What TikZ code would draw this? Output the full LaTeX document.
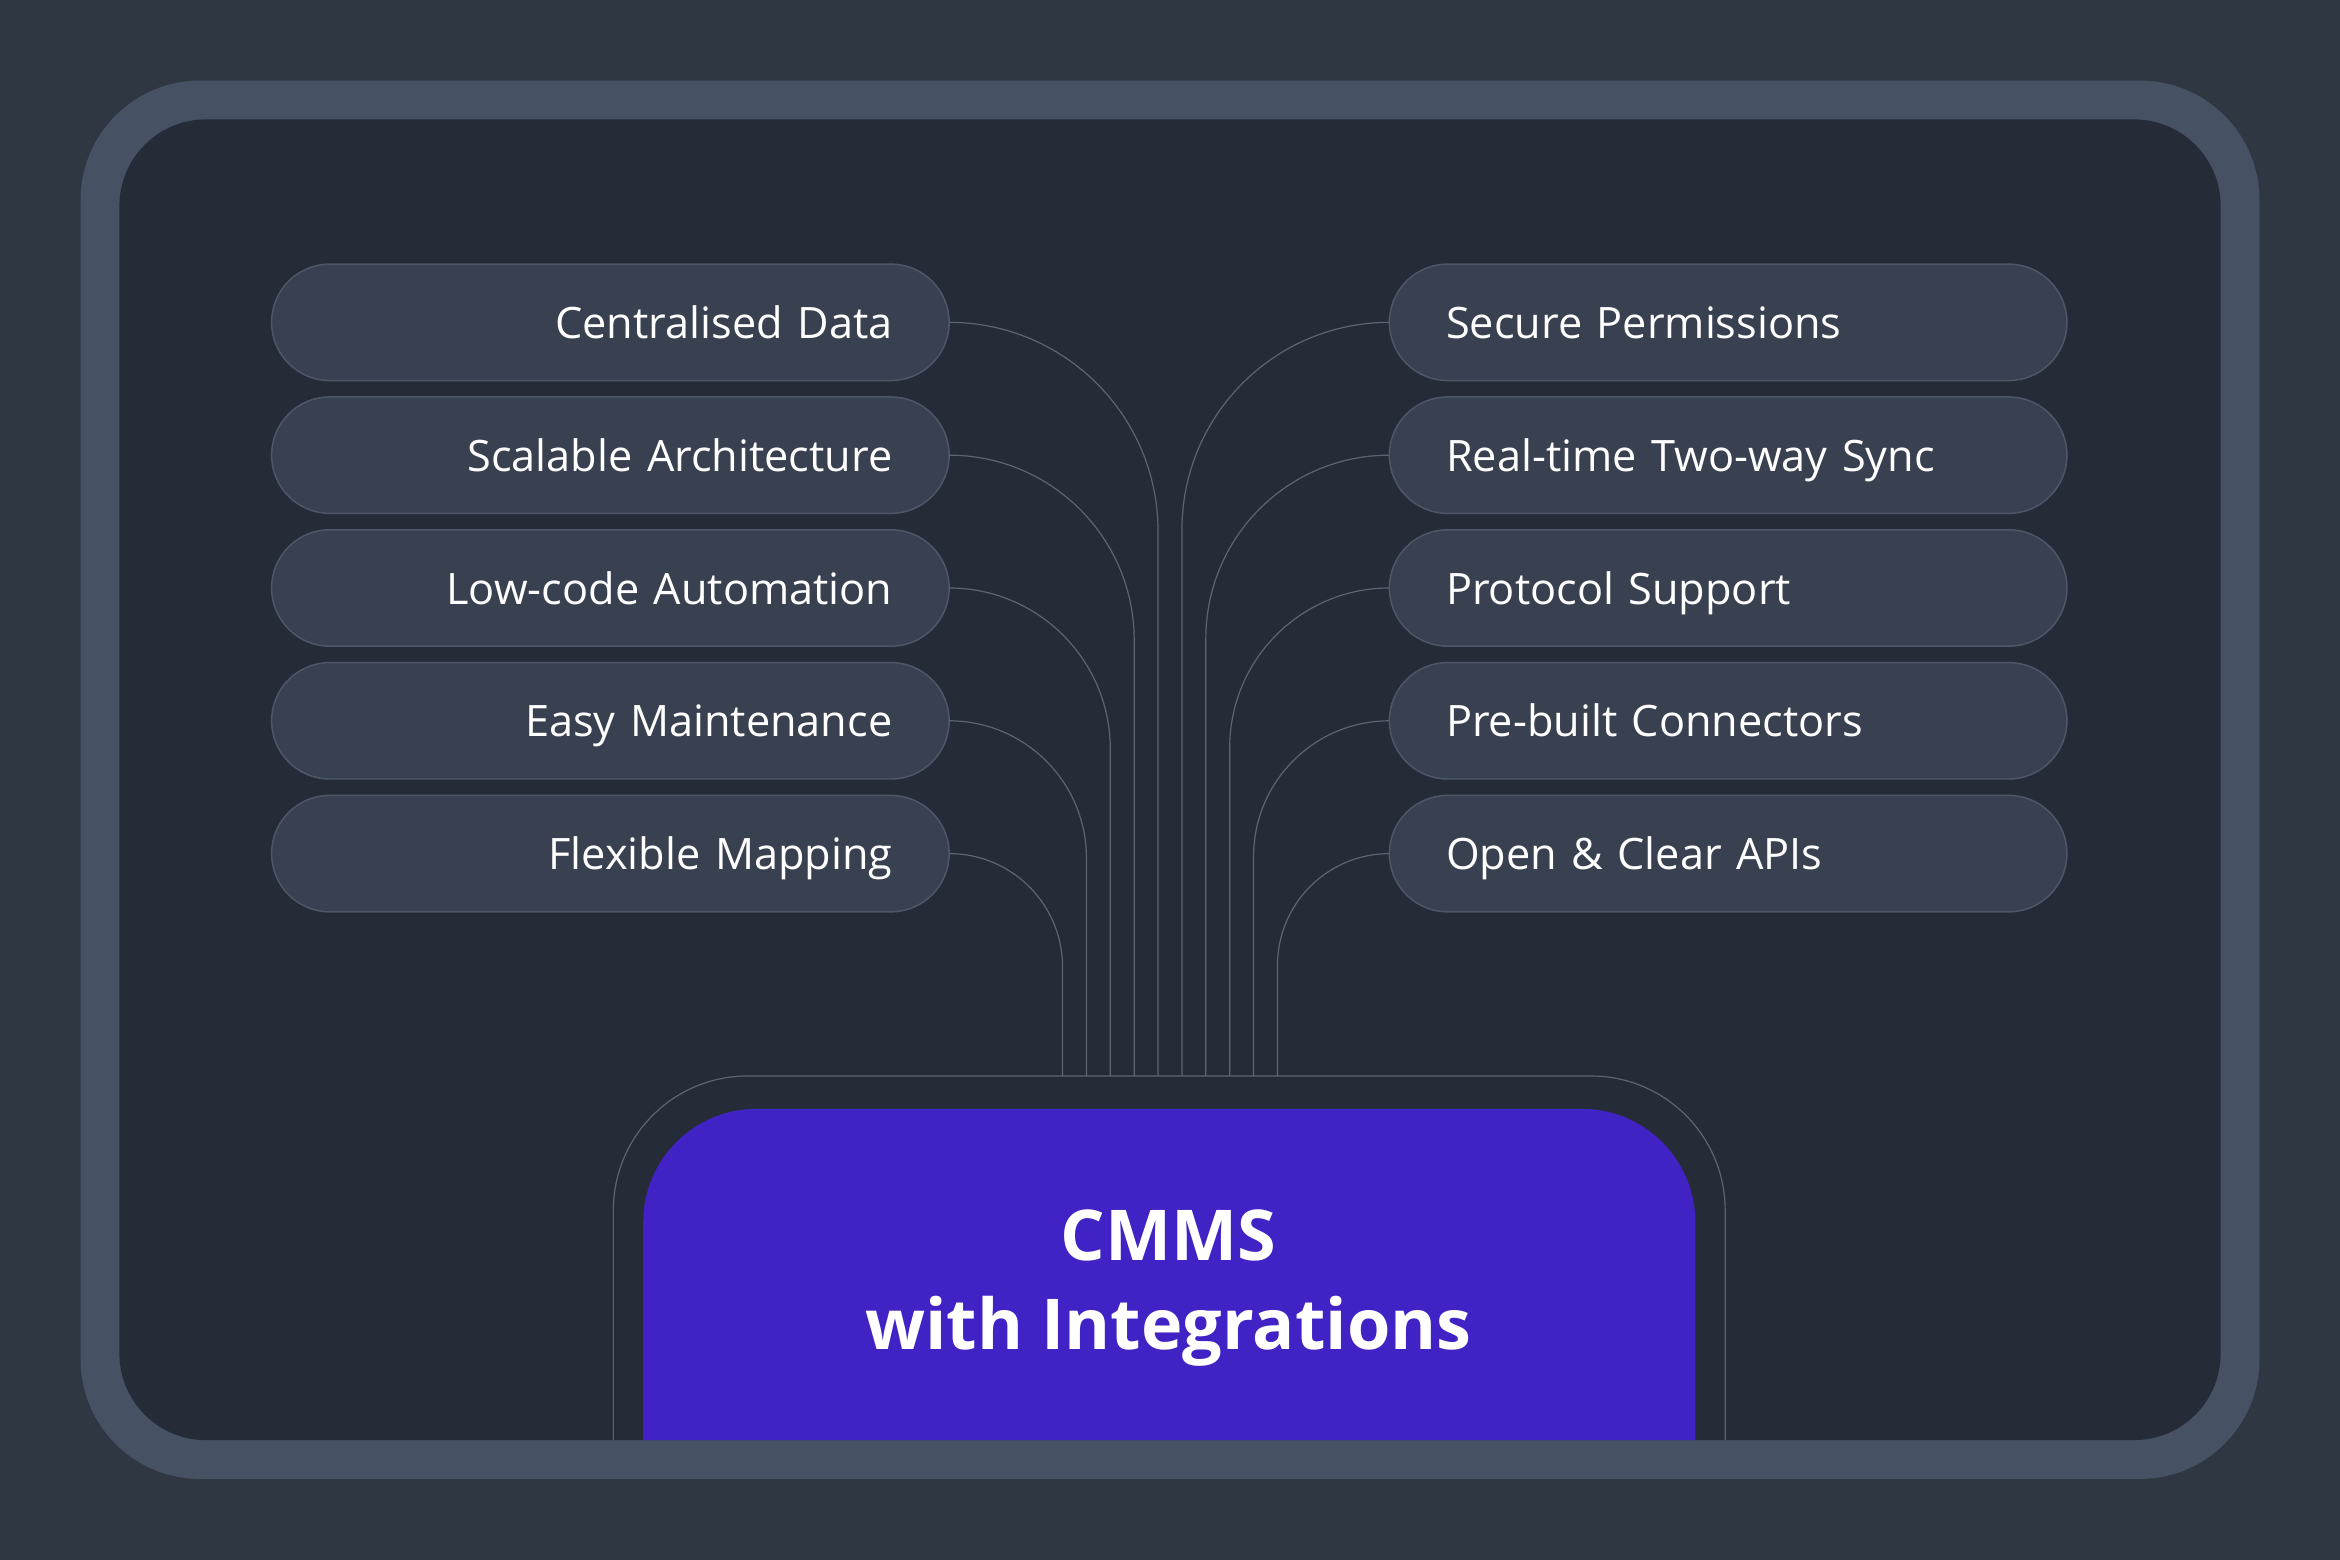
\documentclass[tikz,border=0pt]{standalone}
\usepackage{fontspec}
\setmainfont{Open Sans}
\usetikzlibrary{positioning}
\definecolor{bgdark}{HTML}{2F3743}
\definecolor{frameblue}{HTML}{465263}
\definecolor{paneldark}{HTML}{262C37}
\definecolor{pillfill}{HTML}{394150}
\definecolor{pillline}{HTML}{4E5768}
\definecolor{wiregray}{HTML}{5C6574}
\definecolor{cmmspurple}{HTML}{4122C4}

\begin{document}
\begin{tikzpicture}[x=1pt, y=1pt,
                pillnode/.style={shape=rectangle, rounded corners=39pt, fill=pillfill, draw=pillline, line width=1pt, minimum width=454pt, minimum height=78pt, inner xsep=38pt, text width=378pt, text=white, font=\fontsize{29}{34}\selectfont},
                wire/.style={draw=wiregray, line width=0.8pt}
                ]
                %% Frame
                \fill[bgdark] (0,0) rectangle (1568,1045);
                \fill[frameblue, rounded corners=80pt] (54,54) rectangle (1514,991);
                \fill[paneldark, rounded corners=58pt] (80,80) rectangle (1488,965);

                % Pills and wires
                \foreach \i/\y/\ltext/\rtext in {1/829/Centralised Data/Secure Permissions, 2/740/Scalable Architecture/Real-time Two-way Sync, 3/651/Low-code Automation/Protocol Support, 4/562/Easy Maintenance/Pre-built Connectors, 5/473/Flexible Mapping/Open \& Clear APIs} {
                    \node[pillnode, align=right] (left\i) at (409,\y) {\strut\raisebox{-4pt}[0pt][0pt]{\ltext}};
                    \node[pillnode, align=left] (right\i) at (1158,\y) {\strut\raisebox{-4pt}[0pt][0pt]{\rtext}};
                    \pgfmathsetmacro{\lx}{776-16*(\i-1)}
                    \pgfmathsetmacro{\rx}{792+16*(\i-1)}
                    \coordinate (leftfoot\i) at (\lx,324);
                    \coordinate (rightfoot\i) at (\rx,324);
                    \pgfmathsetmacro{\lr}{\lx-636}
                    \pgfmathsetmacro{\rr}{931-\rx}
                    \draw[wire, rounded corners=\lr pt] (left\i.east) -| (leftfoot\i);
                    \draw[wire, rounded corners=\rr pt] (right\i.west) -| (rightfoot\i);
                }

                %% CMMS box
                \draw[wire, rounded corners=90pt] (411,80) -- (411,324) -- (1156,324) -- (1156,80);
                \fill[cmmspurple] (431,80) [rounded corners=76pt] -- (431,302) -- (1136,302) [sharp corners] -- (1136,80) -- cycle;
                \node[text=white, align=center, font=\bfseries\fontsize{47}{60}\selectfont] (cmms) at (783,182) {CMMS\\with Integrations};
\end{tikzpicture}
\end{document}
